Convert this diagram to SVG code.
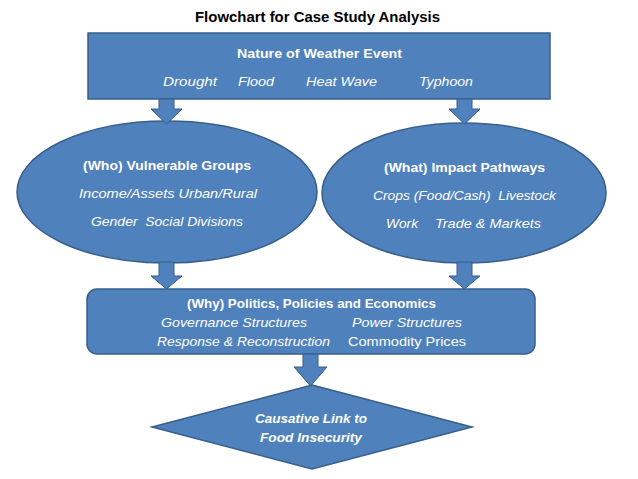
<svg xmlns="http://www.w3.org/2000/svg" width="638" height="479" viewBox="0 0 638 479">
<style>
.shape{fill:#4f81bd;stroke:#385d8a;stroke-width:1.5}
.arrow{fill:#4f81bd;stroke:#385d8a;stroke-width:1}
text{font-family:"Liberation Sans",Arial,sans-serif;fill:#ffffff;font-size:13px;white-space:pre}
.title{fill:#000000;font-weight:bold;font-size:15px}
.b{font-weight:bold}
.i{font-style:italic}
.bi{font-weight:bold;font-style:italic}
</style>
<rect width="638" height="479" fill="#ffffff"/>
<text class="title" x="195" y="22" textLength="245" lengthAdjust="spacingAndGlyphs">Flowchart for Case Study Analysis</text>
<g id="weather">
<rect class="shape" x="88" y="33" width="462" height="66"/>
<text class="b" x="237" y="58" textLength="165" lengthAdjust="spacingAndGlyphs">Nature of Weather Event</text>
<text class="i" x="163" y="86" textLength="54" lengthAdjust="spacingAndGlyphs">Drought</text>
<text class="i" x="238" y="86" textLength="36" lengthAdjust="spacingAndGlyphs">Flood</text>
<text class="i" x="306" y="86" textLength="71" lengthAdjust="spacingAndGlyphs">Heat Wave</text>
<text class="i" x="419" y="86" textLength="54" lengthAdjust="spacingAndGlyphs">Typhoon</text>
</g>
<g id="who">
<ellipse class="shape" cx="167" cy="192" rx="150" ry="71"/>
<text class="b" x="83" y="170" textLength="168" lengthAdjust="spacingAndGlyphs">(Who) Vulnerable Groups</text>
<text class="i" x="79" y="198" textLength="178" lengthAdjust="spacingAndGlyphs">Income/Assets Urban/Rural</text>
<text class="i" x="91" y="226" textLength="152" lengthAdjust="spacingAndGlyphs">Gender  Social Divisions</text>
</g>
<g id="what">
<ellipse class="shape" cx="464" cy="193" rx="142" ry="70"/>
<text class="b" x="384" y="172" textLength="161" lengthAdjust="spacingAndGlyphs">(What) Impact Pathways</text>
<text class="i" x="373" y="200" textLength="183" lengthAdjust="spacingAndGlyphs">Crops (Food/Cash)  Livestock</text>
<text class="i" x="386" y="228" textLength="32" lengthAdjust="spacingAndGlyphs">Work</text>
<text class="i" x="435" y="228" textLength="106" lengthAdjust="spacingAndGlyphs">Trade &amp; Markets</text>
</g>
<g id="why">
<rect class="shape" x="87" y="289" width="448" height="65" rx="10" ry="10"/>
<text class="b" x="187" y="308" textLength="249" lengthAdjust="spacingAndGlyphs">(Why) Politics, Policies and Economics</text>
<text class="i" x="161" y="327" textLength="146" lengthAdjust="spacingAndGlyphs">Governance Structures</text>
<text class="i" x="352" y="327" textLength="110" lengthAdjust="spacingAndGlyphs">Power Structures</text>
<text class="i" x="157" y="346" textLength="173" lengthAdjust="spacingAndGlyphs">Response &amp; Reconstruction</text>
<text x="348" y="346" textLength="118" lengthAdjust="spacingAndGlyphs">Commodity Prices</text>
</g>
<g id="link">
<polygon class="shape" points="312,385 472,427 312,469 152,427"/>
<text class="bi" x="255" y="423" textLength="112" lengthAdjust="spacingAndGlyphs">Causative Link to</text>
<text class="bi" x="260" y="442" textLength="102" lengthAdjust="spacingAndGlyphs">Food Insecurity</text>
</g>
<g id="connectors">
<polygon class="arrow" points="159,99 174,99 174,109 182,109 166.5,124 151,109 159,109"/>
<polygon class="arrow" points="457,99 472,99 472,109 480,109 464.5,124 449,109 457,109"/>
<polygon class="arrow" points="159,262 174,262 174,276 182,276 166.5,289 151,276 159,276"/>
<polygon class="arrow" points="457,262 472,262 472,276 480,276 464.5,289 449,276 457,276"/>
<polygon class="arrow" points="303,354 318,354 318,367 327,367 310.5,386 294,367 303,367"/>
</g>
</svg>
